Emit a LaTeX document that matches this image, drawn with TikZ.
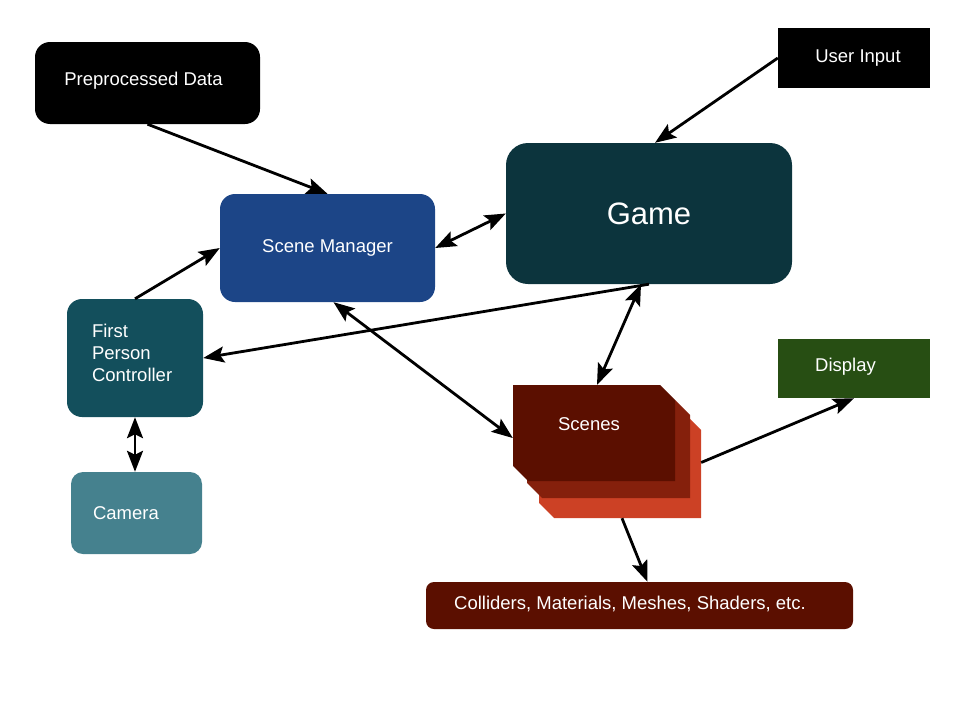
\documentclass[tikz,border=0pt]{standalone}
\usepackage{fontspec}
\setmainfont{Liberation Sans}
\usepackage{xcolor}
\usetikzlibrary{arrows.meta, positioning}

\definecolor{gamecol}{HTML}{0C343D}
\definecolor{smcol}{HTML}{1C4587}
\definecolor{fpccol}{HTML}{134F5C}
\definecolor{camcol}{HTML}{45818E}
\definecolor{dispcol}{HTML}{274E13}
\definecolor{berryA}{HTML}{5B0F00}
\definecolor{berryB}{HTML}{85200C}
\definecolor{berryC}{HTML}{CC4125}

\begin{document}
\begin{tikzpicture}[
    x=1pt, y=-1pt,
    box/.style={rectangle, rounded corners=15pt, text=white, font=\fontsize{18.5}{22}\selectfont, inner sep=0pt},
    flat/.style={rectangle, text=white, font=\fontsize{18.5}{22}\selectfont, inner sep=0pt},
    arrow/.style={-{Stealth[length=21pt, width=16pt, inset=4pt]}, line width=2.8pt},
    twoway/.style={{Stealth[length=21pt, width=16pt, inset=4pt]}-{Stealth[length=21pt, width=16pt, inset=4pt]}, line width=2.8pt}
]
\useasboundingbox (0,0) rectangle (960,720);

% Boxes
\node[box, fill=black, minimum width=225pt, minimum height=82pt] (pd) at (147.5,83) {\raisebox{8pt}{\hspace{-8pt}Preprocessed Data}};
\node[flat, fill=black, minimum width=152pt, minimum height=60pt] (ui) at (854,58) {\raisebox{4pt}{\hspace{8pt}User Input}};
\node[box, fill=gamecol, rounded corners=22pt, minimum width=286pt, minimum height=141pt, font=\fontsize{31}{36}\selectfont] (game) at (649,213.5) {Game};
\node[box, fill=smcol, minimum width=215pt, minimum height=108pt] (sm) at (327.5,248) {\raisebox{3pt}{Scene Manager}};
\node[box, fill=fpccol, minimum width=136pt, minimum height=118pt, text width=86pt, align=left, inner xsep=25pt] (fpc) at (135,358) {First\\Person\\Controller\\[-12pt]\mbox{}};
\node[box, fill=camcol, rounded corners=12pt, minimum width=131pt, minimum height=82pt, text width=87pt, align=left, inner xsep=22pt] (cam) at (136.5,513) {Camera};
\node[flat, fill=dispcol, minimum width=152pt, minimum height=59pt] (disp) at (854,368.5) {\raisebox{8pt}{\hspace{-17pt}Display}};
\node[box, fill=berryA, rounded corners=8pt, minimum width=427pt, minimum height=47pt] (col) at (639.5,605.5) {\raisebox{6pt}{\hspace{-19pt}Colliders, Materials, Meshes, Shaders, etc.}};

% Scenes stack
\fill[berryC] (539,415) -- (686,415) -- (701,430) -- (701,518) -- (554,518) -- (539,503) -- cycle;
\fill[berryB] (527,400) -- (675,400) -- (690,415) -- (690,498) -- (542,498) -- (527,483) -- cycle;
\fill[berryA] (513,385) -- (660,385) -- (675,400) -- (675,481) -- (528,481) -- (513,466) -- cycle;
\node[flat, minimum width=162pt, minimum height=96pt] (scenes) at (594,433) {\raisebox{18pt}{\hspace{-10pt}Scenes}};
\node[flat, minimum width=162pt, minimum height=103pt] (back) at (620,466.5) {};

% Arrows
\draw[arrow] (pd.south) -- (sm.north);
\draw[arrow] (ui.west) -- ([xshift=6pt]game.north);
\draw[twoway] (sm.east) -- (game.west);
\draw[arrow] (fpc.north) -- (sm.west);
\draw[arrow] (game.south) -- (fpc.east);
\draw[twoway] ([xshift=6pt]sm.south) -- ([yshift=-5pt]scenes.west);
\draw[twoway] ([xshift=-8pt]game.south) -- ([xshift=3pt]scenes.north);
\draw[twoway] (fpc.south) -- (fpc.south |- cam.north);
\draw[arrow] ([yshift=4pt]back.east) -- (disp.south);
\draw[arrow] ([xshift=2pt]back.south) -- ([xshift=8pt]col.north);

\end{tikzpicture}
\end{document}
